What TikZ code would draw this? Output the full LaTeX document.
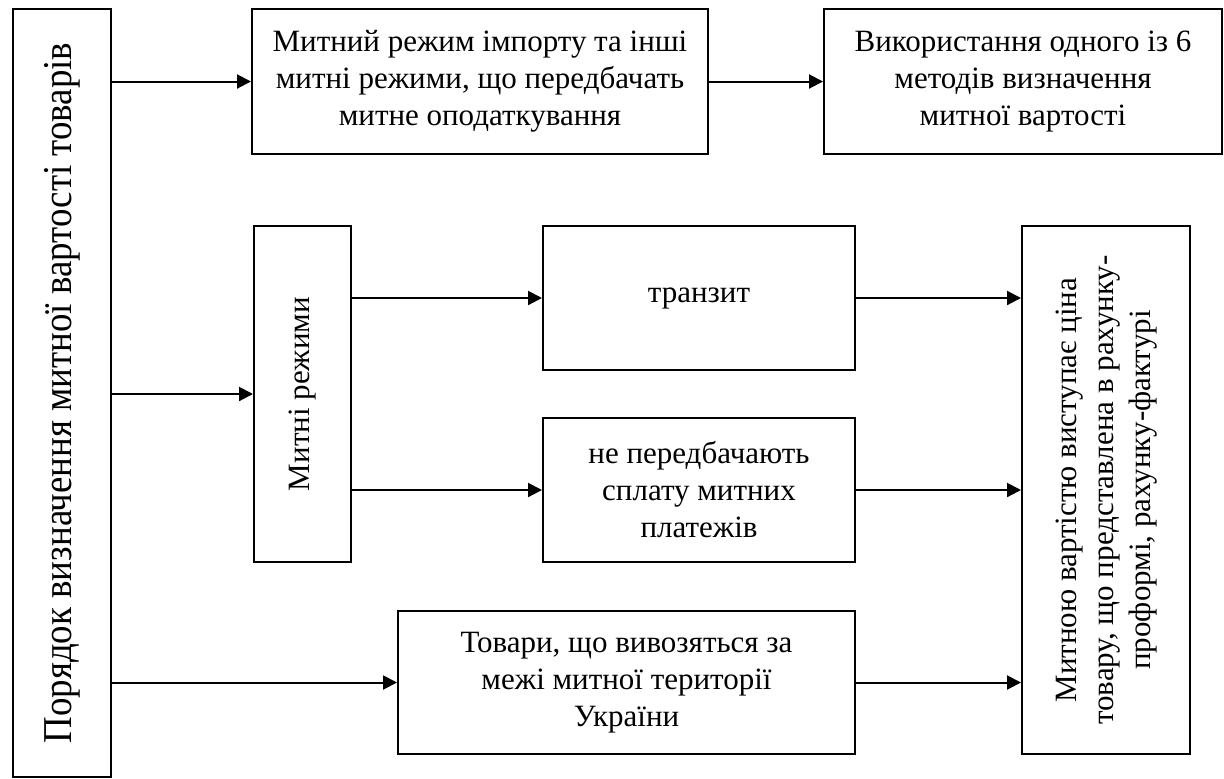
\documentclass[tikz,border=0pt]{standalone}
\usepackage{fontspec}
\setmainfont{Liberation Serif}
\usepackage{graphicx}
\usetikzlibrary{arrows.meta}
\begin{document}
\begin{tikzpicture}[x=0.5pt,y=-0.5pt,
  box/.style={draw,line width=1pt,inner sep=0pt,align=center,
    font=\fontsize{15.5}{18.5}\selectfont},
  arr/.style={line width=1pt,-{Triangle[length=7pt,width=7pt]}}]
\useasboundingbox (0,0) rectangle (1224,778);
\fill[white] (0,0) rectangle (1224,778);
\node[box,minimum width=49pt,minimum height=384pt] (L) at (62,393)
  {\rotatebox{90}{\fontsize{20.5}{24}\selectfont\scalebox{0.9}[1]{Порядок визначення митної вартості товарів}}};
\node[box,minimum width=228pt,minimum height=72.5pt] (T1) at (480,81.5)
  {Митний режим імпорту та інші\\митні режими, що передбачать\\митне оподаткування};
\node[box,minimum width=199pt,minimum height=72.5pt] (T2) at (1023,81.5)
  {Використання одного із 6\\методів визначення\\митної вартості};
\node[box,minimum width=48.5pt,minimum height=168pt] (M) at (302.5,394)
  {\rotatebox{90}{Митні режими}};
\node[box,minimum width=156pt,minimum height=72pt] (TR) at (699,298)
  {транзит};
\node[box,minimum width=156pt,minimum height=72pt] (NP) at (699,490)
  {не передбачають\\сплату митних\\платежів};
\node[box,minimum width=84pt,minimum height=264pt] (R) at (1106,490)
  {\rotatebox{90}{\begin{tabular}{@{}c@{}}Митною вартістю виступає ціна\\товару, що представлена в рахунку-\\проформі, рахунку-фактурі\end{tabular}}};
\node[box,minimum width=228.5pt,minimum height=71.5pt] (G) at (626.5,682.5)
  {Товари, що вивозяться за\\межі митної території\\України};
\draw[arr] (L.east |- T1.west) -- (T1.west);
\draw[arr] (T1.east) -- (T2.west);
\draw[arr] (L.east |- M.west) -- (M.west);
\draw[arr] (M.east |- TR.west) -- (TR.west);
\draw[arr] (M.east |- NP.west) -- (NP.west);
\draw[arr] (TR.east) -- (TR.east -| R.west);
\draw[arr] (NP.east) -- (NP.east -| R.west);
\draw[arr] (L.east |- G.west) -- (G.west);
\draw[arr] (G.east) -- (G.east -| R.west);
\end{tikzpicture}
\end{document}
